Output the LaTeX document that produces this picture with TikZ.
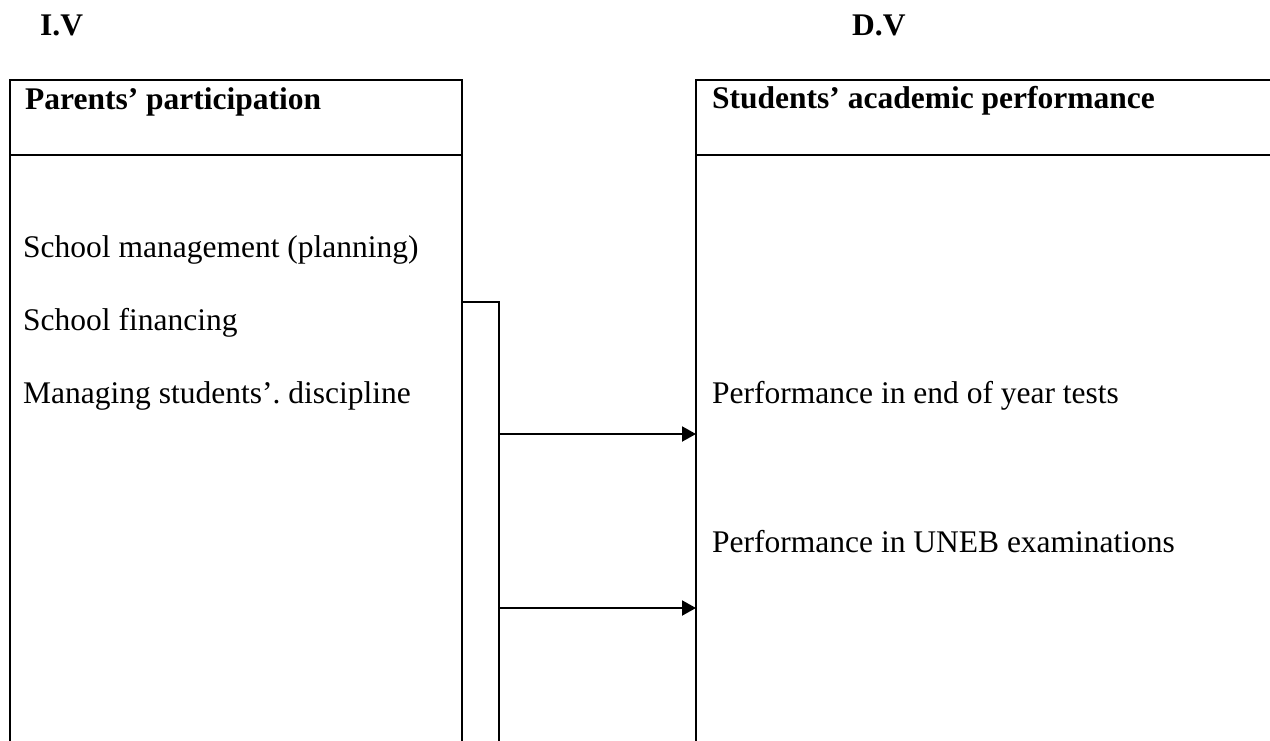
\documentclass[tikz,border=0pt]{standalone}
\usepackage{fontspec}
\setmainfont{Liberation Serif}
\usetikzlibrary{arrows.meta}
\frenchspacing
\begin{document}
\begin{tikzpicture}[x=1pt,y=-1pt,
  box/.style={draw=black, line width=2pt, rectangle, anchor=north west, outer sep=0pt, inner sep=0pt},
  lbl/.style={anchor=base west, inner sep=0pt, font=\fontsize{31.5}{38}\selectfont},
  hdr/.style={lbl, font=\fontsize{31.5}{38}\selectfont\bfseries},
  arr/.style={line width=2pt, -{Triangle[length=14pt,width=15pt]}}]
\fill[white] (0,0) rectangle (1270,740);
\useasboundingbox (0,0) rectangle (1270,740);
\clip (0,0) rectangle (1270,740);
% boxes
\node[box, minimum width=452pt, minimum height=720pt] (iv) at (10,80) {};
\node[box, minimum width=37pt, minimum height=500pt] (link) at (462,302) {};
\node[box, minimum width=700pt, minimum height=720pt] (dv) at (696,80) {};
\draw[line width=2pt] (iv.west |- 0,155) -- (iv.east |- 0,155);
\draw[line width=2pt] (dv.west |- 0,155) -- (dv.east |- 0,155);
% titles
\node[hdr] (tiv) at (40,35) {I.V};
\node[hdr] (tdv) at (852,35) {D.V};
\node[hdr] (hiv) at (25,109) {Parents’ participation};
\node[hdr] (hdv) at (712,108) {Students’ academic performance};
% items
\node[lbl] (i1) at (23,257) {School management (planning)};
\node[lbl] (i2) at (23,330) {School financing};
\node[lbl] (i3) at (23,403) {Managing students’. discipline};
\node[lbl] (d1) at (712,403) {Performance in end of year tests};
\node[lbl] (d2) at (712,552) {Performance in UNEB examinations};
% arrows
\draw[arr] (link.east |- 0,434) -- (dv.west |- 0,434);
\draw[arr] (link.east |- 0,608) -- (dv.west |- 0,608);
\end{tikzpicture}
\end{document}
